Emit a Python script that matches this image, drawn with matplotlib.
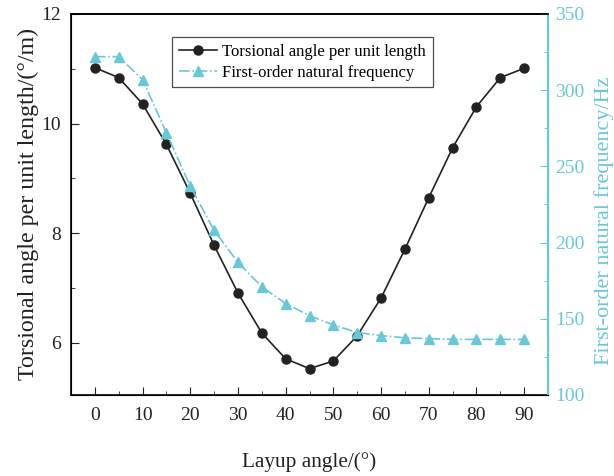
import matplotlib.pyplot as plt
from matplotlib.ticker import MultipleLocator

plt.rcParams['font.family'] = ['Liberation Serif', 'DejaVu Serif']
plt.rcParams['mathtext.fontset'] = 'stix'

# layup angle (deg)
angles = [0, 5, 10, 15, 20, 25, 30, 35, 40, 45, 50, 55, 60, 65, 70, 75, 80, 85, 90]
# torsional angle per unit length (deg/m)
torsion = [11.02, 10.84, 10.36, 9.62, 8.73, 7.78, 6.91, 6.18, 5.71, 5.53, 5.67, 6.13,
           6.82, 7.71, 8.65, 9.56, 10.31, 10.84, 11.01]
# first-order natural frequency (Hz)
freq = [322, 322, 307, 272, 237, 208, 187, 171, 160, 152, 146, 141, 139, 137.5, 137,
        136.5, 136.5, 136.5, 136.5]

cyan = '#67c8d8'
dark = '#222222'

fig = plt.figure(figsize=(6.14, 4.76), dpi=100)
ax = fig.add_axes([0.1156, 0.1702, 0.777, 0.8004])
ax2 = ax.twinx()

l1, = ax.plot(angles, torsion, '-o', color=dark, lw=1.2, ms=6.5,
              label='Torsional angle per unit length')
l2, = ax2.plot(angles, freq, '-.^', color=cyan, lw=1.2, ms=7.5,
               label='First-order natural frequency')

ax.set_xlim(-5, 95)
ax.set_ylim(5.05, 12)
ax2.set_ylim(100, 350)

ax.xaxis.set_major_locator(MultipleLocator(10))
ax.xaxis.set_minor_locator(MultipleLocator(5))
ax.yaxis.set_major_locator(MultipleLocator(2))
ax.yaxis.set_minor_locator(MultipleLocator(1))
ax2.yaxis.set_major_locator(MultipleLocator(50))
ax2.yaxis.set_minor_locator(MultipleLocator(25))

ax.tick_params(axis='both', which='both', direction='in', labelsize=14, colors=dark)
ax.tick_params(axis='x', which='major', length=6, pad=9)
ax.tick_params(axis='y', which='major', length=6, pad=7)
ax.tick_params(which='minor', length=3)
ax2.tick_params(axis='y', which='both', direction='in', labelsize=14, colors=cyan)
ax2.tick_params(which='major', length=6, pad=5)
ax2.tick_params(which='minor', length=3)

ax2.spines['right'].set_color(cyan)
ax2.spines['right'].set_linewidth(1.5)
for s in ['left', 'bottom', 'top']:
    ax.spines[s].set_linewidth(1.2)
ax2.spines['top'].set_linewidth(1.2)

ax.set_xlabel('Layup angle/(°)', fontsize=15.3, color=dark, labelpad=20)
ax.set_ylabel('Torsional angle per unit length/(°/m)', fontsize=17.3, color=dark, labelpad=2)
ax2.set_ylabel('First-order natural frequency/Hz', fontsize=16, color=cyan, labelpad=7)
ax2.yaxis.set_label_coords(1.096, 0.457)

leg = ax.legend(handles=[l1, l2], loc='upper left', bbox_to_anchor=(0.212, 0.94),
                fontsize=12, frameon=True, fancybox=False, edgecolor=dark,
                handlelength=2.3, borderaxespad=0, borderpad=0.4, handletextpad=0.3,
                labelspacing=0.3)
leg.get_frame().set_linewidth(0.9)

fig.savefig('out.png', dpi=100)
